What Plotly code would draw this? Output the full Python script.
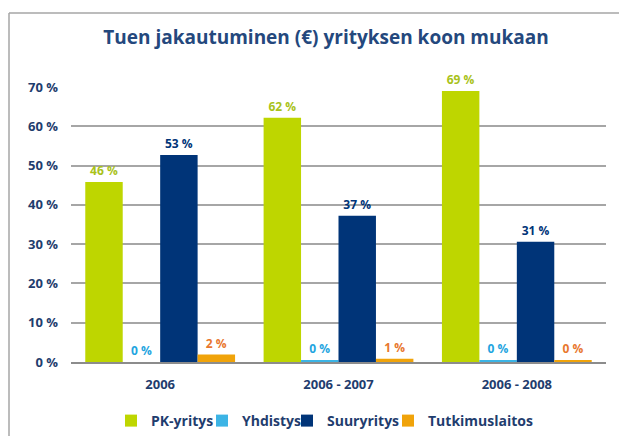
import plotly.graph_objects as go

categories = ["2006", "2006 - 2007", "2006 - 2008"]
series_names = ["PK-yritys", "Yhdistys", "Suuryritys", "Tutkimuslaitos"]
pk_values = [45.8, 62.2, 69.0]
yhd_values = [0.0, 0.35, 0.4]
suur_values = [52.7, 37.2, 30.6]
tutk_values = [1.9, 0.85, 0.4]
pk_labels = ["46 %", "62 %", "69 %"]
yhd_labels = ["0 %", "0 %", "0 %"]
suur_labels = ["53 %", "37 %", "31 %"]
tutk_labels = ["2 %", "1 %", "0 %"]
y_tick_vals = [0, 10, 20, 30, 40, 50, 60, 70]
y_tick_text = ["0 %", "10 %", "20 %", "30 %", "40 %", "50 %", "60 %", "70 %"]

bar_colors = ["#bed600", "#3cb4e5", "#003478", "#f0a30a"]
label_colors = ["#a9c21a", "#1fa5e0", "#003478", "#e8772e"]
values = [pk_values, yhd_values, suur_values, tutk_values]
labels = [pk_labels, yhd_labels, suur_labels, tutk_labels]
legend_ids = ["legend", "legend2", "legend3", "legend4"]
# page x where each legend entry's text starts in the reference
legend_text_x = [146, 237, 322, 423]

FONT = "Open Sans"
NAVY = "#1f3d6e"

# the page body has an 8px margin, so figure coords = page coords - 8
OFF = 8
W, H = 627 - OFF, 436 - OFF
L, T = 71 - OFF, 87 - OFF
R = W - (606 - OFF)
B = H - (362 - OFF)
pw, ph = W - L - R, H - T - B

def px(x):
    return (x - OFF - L) / pw

def py(y):
    return (H - B - (y - OFF)) / ph

fig = go.Figure()
for name, vals, txt, bc, lc, lg in zip(series_names, values, labels, bar_colors, label_colors, legend_ids):
    fig.add_trace(go.Bar(
        x=categories, y=vals, name=name, text=txt,
        textposition="outside", cliponaxis=False,
        textfont=dict(family=FONT, size=12, color=lc, weight="bold"),
        marker=dict(color=bc, line=dict(width=0)),
        legend=lg, hoverinfo="skip",
    ))

legends = {}
for lg, tx in zip(legend_ids, legend_text_x):
    legends[lg] = dict(orientation="h", x=px(tx - 35), xanchor="left", y=py(421), yanchor="middle",
                       font=dict(family=FONT, size=14, color=NAVY, weight="bold"),
                       itemwidth=30, bgcolor="rgba(0,0,0,0)")

fig.update_layout(
    width=W, height=H,
    margin=dict(l=L, r=R, t=T, b=B, autoexpand=False),
    paper_bgcolor="white", plot_bgcolor="white",
    barmode="group", bargap=0.16, bargroupgap=0,
    title=dict(text="Tuen jakautuminen (€) yrityksen koon mukaan",
               x=px(326), xref="paper", xanchor="center",
               y=1 - (37 - OFF) / H, yanchor="middle",
               font=dict(family=FONT, size=19, color="#24487d", weight="bold")),
    xaxis=dict(showgrid=False, showline=True, linecolor="#8c8c8c", linewidth=1.5,
               ticks="outside", ticklen=10, tickcolor="rgba(0,0,0,0)",
               tickfont=dict(family=FONT, size=13, color=NAVY, weight="bold")),
    yaxis=dict(range=[0, 70], tickvals=y_tick_vals, ticktext=y_tick_text,
               showgrid=True, gridcolor="#a6a6a6", gridwidth=1.5,
               zeroline=False, showline=False, ticklabelstandoff=12,
               tickfont=dict(family=FONT, size=13, color=NAVY, weight="bold")),
    shapes=[
        dict(type="line", xref="paper", yref="paper", x0=px(9), x1=px(650), y0=py(13), y1=py(13),
             line=dict(color="#a6a6a6", width=1.5)),
        dict(type="line", xref="paper", yref="paper", x0=px(9), x1=px(9), y0=py(13), y1=py(460),
             line=dict(color="#a6a6a6", width=1.5)),
    ],
    showlegend=True,
    **legends,
)

fig.write_html("out.html")
